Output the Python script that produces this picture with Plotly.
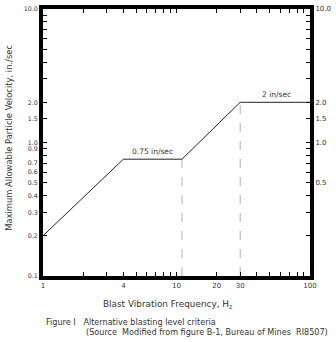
import numpy as np
import plotly.graph_objects as go

# Data
freq = [1, 4, 11, 30, 100]
velocity = [0.2, 0.75, 0.75, 2.0, 2.0]
dash_freq = [11, 30]
dash_top = [0.75, 2.0]
labels = ["0.75 in/sec", "2 in/sec"]
label_freq = [6.6, 56]
label_vel = [0.75, 2.0]

x_tickvals = [1, 2, 3, 4, 5, 6, 7, 8, 9, 10, 20, 30, 40, 50, 60, 70, 80, 90, 100]
x_ticktext = ["1", "", "", "4", "", "", "", "", "", "10", "20", "30", "", "", "", "", "", "", "100"]
yl_tickvals = [0.1, 0.2, 0.3, 0.4, 0.5, 0.6, 0.7, 0.8, 0.9, 1.0, 1.5, 2, 3, 4, 5, 6, 7, 8, 9, 10]
yl_ticktext = ["0.1", "0.2", "0.3", "0.4", "0.5", "0.6", "0.7", "", "0.9", "1.0", "1.5", "2.0",
               "", "", "", "", "", "", "", "10.0"]
yr_tickvals = [0.1, 0.2, 0.3, 0.4, 0.5, 0.6, 0.7, 0.8, 0.9, 1.0, 1.5, 2, 3, 4, 5, 6, 7, 8, 9, 10]
yr_ticktext = ["", "", "", "", "0.5", "", "", "", "", "1.0", "1.5", "2.0",
               "", "", "", "", "", "", "", "10.0"]
top_tickvals = [1, 2, 3, 4, 5, 6, 7, 8, 9, 10, 20, 30, 40, 50, 60, 70, 80, 90, 100]

FONT = "DejaVu Sans"
TXT = "#333333"

fig = go.Figure()

for f, v in zip(dash_freq, dash_top):
    fig.add_trace(go.Scatter(x=[f, f], y=[0.1, v], mode="lines",
                             line=dict(color="#b0b0b0", width=1, dash="dash"),
                             hoverinfo="skip", showlegend=False))

fig.add_trace(go.Scatter(x=freq, y=velocity, mode="lines",
                         line=dict(color="#222222", width=1),
                         showlegend=False))

# invisible trace to activate top/right axes
fig.add_trace(go.Scatter(x=[1, 100], y=[0.1, 10], xaxis="x2", yaxis="y2",
                         mode="markers", marker=dict(opacity=0),
                         hoverinfo="skip", showlegend=False))

common = dict(showline=True, linecolor="#000000", linewidth=4, ticks="inside",
              ticklen=4, tickwidth=1, tickcolor="#000000", showgrid=False,
              zeroline=False)

fig.update_layout(
    width=336, height=342,
    margin=dict(l=43, r=20, t=5, b=66),
    paper_bgcolor="white", plot_bgcolor="white",
    xaxis=dict(type="log", range=[0, 2], tickmode="array", tickvals=x_tickvals,
               ticktext=x_ticktext, side="bottom",
               tickfont=dict(family=FONT, size=7, color=TXT), **common),
    yaxis=dict(type="log", range=[-1, 1], tickmode="array", tickvals=yl_tickvals,
               ticktext=yl_ticktext, side="left",
               tickfont=dict(family=FONT, size=6.3, color=TXT), **common),
    xaxis2=dict(type="log", range=[0, 2], tickmode="array", tickvals=top_tickvals,
                showticklabels=False, side="top", overlaying="x", **common),
    yaxis2=dict(type="log", range=[-1, 1], tickmode="array", tickvals=yr_tickvals,
                ticktext=yr_ticktext, side="right", overlaying="y",
                tickfont=dict(family=FONT, size=7, color=TXT), **common),
)

annotations = []
for t, f, v in zip(labels, label_freq, label_vel):
    annotations.append(dict(x=np.log10(f), y=np.log10(v), xref="x", yref="y",
                            text=t, showarrow=False, yshift=8,
                            xanchor="center", yanchor="middle",
                            font=dict(family=FONT, size=7.5, color=TXT)))

plot_h = 342 - 5 - 66
def py(pixel_y):
    return (342 - 66 - pixel_y) / plot_h

plot_w = 336 - 43 - 20
def px(pixel_x):
    return (pixel_x - 43) / plot_w

annotations.append(dict(x=px(170), y=py(305), xref="paper", yref="paper",
                        xanchor="center", yanchor="middle",
                        text="Blast Vibration Frequency, H<sub>z</sub>", showarrow=False,
                        font=dict(family=FONT, size=8.9, color=TXT)))
annotations.append(dict(x=px(44), y=py(323), xref="paper", yref="paper",
                        xanchor="left", yanchor="middle",
                        text="Figure I   Alternative blasting level criteria", showarrow=False,
                        font=dict(family=FONT, size=8.1, color=TXT)))
annotations.append(dict(x=px(85), y=py(333), xref="paper", yref="paper",
                        xanchor="left", yanchor="middle",
                        text="(Source  Modified from figure B-1, Bureau of Mines  RI8507)",
                        showarrow=False, font=dict(family=FONT, size=8.1, color=TXT)))
annotations.append(dict(x=px(8), y=py(136), xref="paper", yref="paper",
                        xanchor="center", yanchor="middle",
                        text="Maximum Allowable Particle Velocity, in./sec", textangle=-90,
                        showarrow=False, font=dict(family=FONT, size=8.4, color=TXT)))
fig.update_layout(annotations=annotations)

fig.write_html("out.html")
